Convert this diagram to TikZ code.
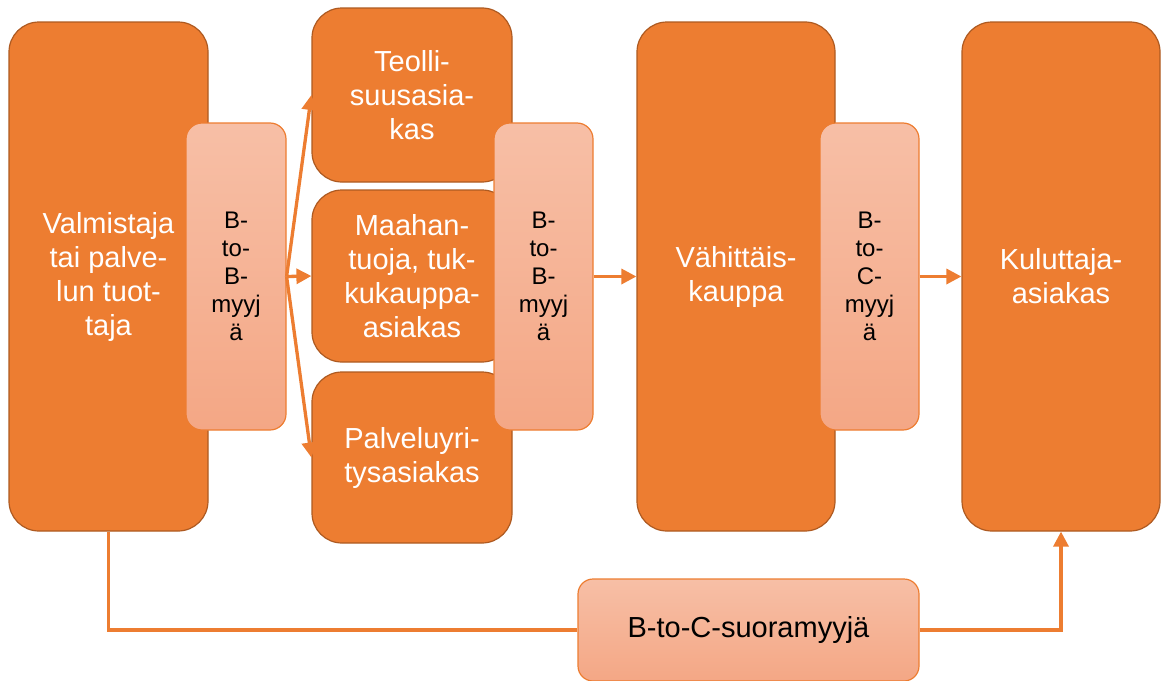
\documentclass[tikz,border=0pt]{standalone}
\usepackage{fontspec}
\setmainfont{Liberation Sans}
\usetikzlibrary{arrows.meta}
\definecolor{accent}{HTML}{ED7D31}
\definecolor{accentdark}{HTML}{AE5A21}
\definecolor{paletop}{HTML}{F7BFA6}
\definecolor{palebot}{HTML}{F4A785}
\tikzset{
  mainbox/.style={draw=accentdark, line width=1.2pt, fill=accent, rounded corners=30pt,
    text=white, align=center, inner sep=0pt,
    font=\fontsize{29}{34}\selectfont},
  salebox/.style={draw=accent, line width=1.2pt, top color=paletop, bottom color=palebot,
    rounded corners=16pt, text=black, align=center, inner sep=0pt,
    font=\fontsize{24}{28}\selectfont},
  flow/.style={draw=accent, line width=3.3pt, -{Triangle[length=15pt,width=15pt]}},
  plainflow/.style={draw=accent, line width=3.3pt}
}
\begin{document}
\begin{tikzpicture}[x=1pt, y=-1pt]
\useasboundingbox (0,0) rectangle (1161,680);

% producer, retail and consumer columns
\node[mainbox, minimum width=199pt, minimum height=509pt] (valm) at (108.5,276.5)
  {Valmistaja\\tai palve-\\lun tuot-\\taja};
\node[mainbox, minimum width=198pt, minimum height=509pt] (vahi) at (736,276.5)
  {Vähittäis-\\kauppa};
\node[mainbox, minimum width=198pt, minimum height=509pt] (kulu) at (1061,276.5)
  {Kuluttaja-\\asiakas};

% business customers
\node[mainbox, minimum width=200pt, minimum height=174pt] (teol) at (412,95)
  {Teolli-\\suusasia-\\kas};
\node[mainbox, minimum width=200pt, minimum height=172pt] (maah) at (412,276)
  {Maahan-\\tuoja, tuk-\\kukauppa-\\asiakas};
\node[mainbox, minimum width=200pt, minimum height=171pt] (palv) at (412,457.5)
  {Palveluyri-\\tysasiakas};

% sellers
\node[salebox, minimum width=100pt, minimum height=307pt] (btb1) at (236,276.5)
  {B-\\to-\\B-\\myyj\\ä};
\node[salebox, minimum width=99pt, minimum height=307pt] (btb2) at (543.5,276.5)
  {B-\\to-\\B-\\myyj\\ä};
\node[salebox, minimum width=99pt, minimum height=307pt] (btc) at (869.5,276.5)
  {B-\\to-\\C-\\myyj\\ä};
\node[salebox, minimum width=341pt, minimum height=102pt, rounded corners=15pt,
  font=\fontsize{29}{34}\selectfont] (suora) at (748.5,630)
  {B-to-C-suoramyyjä};

% flows
\draw[flow] (btb1.east) -- (teol.west);
\draw[flow] (btb1.east) -- (maah.west);
\draw[flow] (btb1.east) -- (palv.west);
\draw[flow] (btb2.east) -- (btb2.east -| vahi.west);
\draw[flow] (btc.east) -- (btc.east -| kulu.west);
\draw[plainflow] (valm.south) -- (valm.south |- suora.west) -- (suora.west);
\draw[flow] (suora.east) -- (kulu.south |- suora.east) -- (kulu.south);
\end{tikzpicture}
\end{document}
